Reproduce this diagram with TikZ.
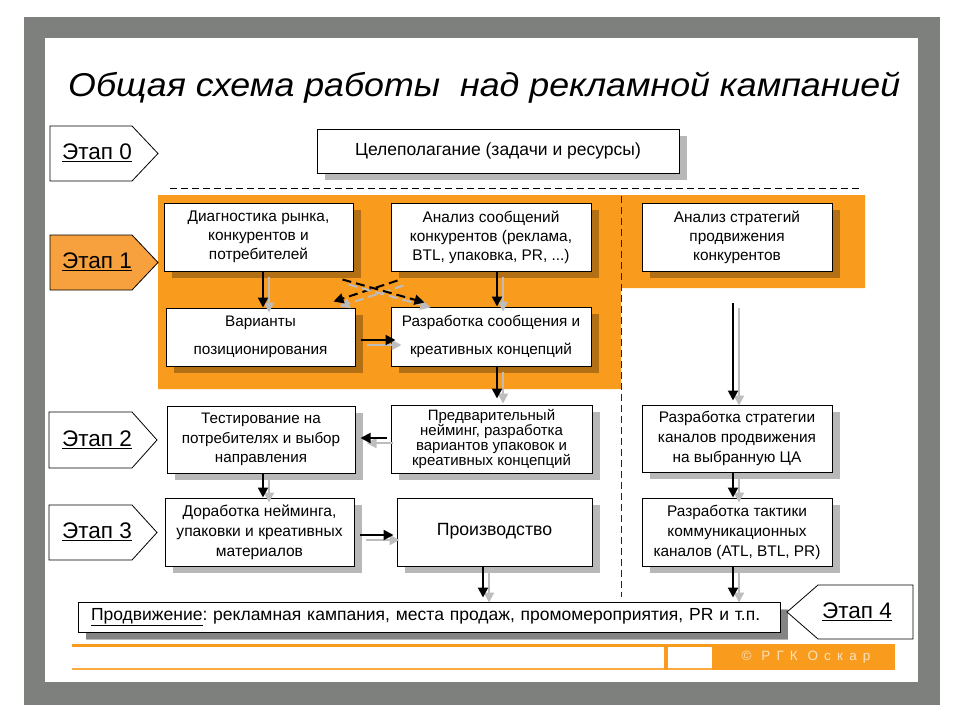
\documentclass[tikz,border=0pt]{standalone}
\usepackage{fontspec}
\setmainfont{Liberation Sans}
\newfontfamily\spacedfont[LetterSpace=45]{Liberation Sans}
\usetikzlibrary{arrows.meta,calc,shadows}
\frenchspacing
\definecolor{framegray}{HTML}{7E807E}
\definecolor{orng}{HTML}{F99B1C}
\definecolor{orngl}{HTML}{F6A13E}
\definecolor{arrgray}{HTML}{BDBDBD}
\definecolor{foottxt}{HTML}{FCE2BC}
\newcommand\sarr[4][]{%
  \draw[arrsh,#1] ($(#2)+#4+(6,5)$) -- ($(#3)+#4+(6,5)$);
  \draw[arrbk,#1] ($(#2)+#4$) -- ($(#3)+#4$);}
\begin{document}
\begin{tikzpicture}[x=1pt,y=-1pt,
  box/.style={draw=black, line width=1pt, fill=white, align=center, inner sep=0pt,
    font=\fontsize{15.4}{19}\selectfont,
    drop shadow={shadow xshift=8pt, shadow yshift=-7pt, fill=black, opacity=0.28}},
  stagebox/.style={draw=black, line width=0.8pt, fill=white},
  stagetext/.style={font=\fontsize{22.5}{24}\selectfont, inner sep=0pt},
  arrbk/.style={draw=black, line width=2pt, -{Triangle[length=10pt,width=10pt]}},
  arrsh/.style={draw=arrgray, line width=2pt, -{Triangle[length=10pt,width=10pt]}},
  dashedarrow/.style={dash pattern=on 9pt off 5pt},
  sepline/.style={draw=black, line width=1pt, dash pattern=on 7pt off 4pt}]
\useasboundingbox (0,0) rectangle (960,720);
\fill[white] (0,0) rectangle (960,720);
% frame
\fill[framegray] (24,17) rectangle (940,705);
\fill[white] (45,38) rectangle (918,682);
% title
\node[anchor=base west, inner sep=0pt, font=\fontsize{33}{33}\selectfont\itshape] (title) at (68,96)
  {\resizebox{832pt}{\height}{Общая схема работы\hspace{0.28em} над рекламной кампанией}};
% orange stage 1 area
\fill[orng] (158,195) -- (865,195) -- (865,288) -- (621,288) -- (621,389) -- (158,389) -- cycle;
% separators
\draw[sepline] (170,188) -- (860,188);
\draw[sepline, draw=black!85] (621,196) -- (621,597);
% stage labels
\draw[stagebox] (50,126) -- (132,126) -- (158,153.5) -- (132,181) -- (50,181) -- cycle;
\node[stagetext] (st0) at (97,153) {\underline{Этап 0}};
\draw[stagebox, fill=orngl] (50,235) -- (132,235) -- (158,262.5) -- (132,290) -- (50,290) -- cycle;
\node[stagetext] (st1) at (97,262) {\underline{Этап 1}};
\draw[stagebox] (49,412) -- (132,412) -- (157,440) -- (132,468) -- (49,468) -- cycle;
\node[stagetext] (st2) at (97,440) {\underline{Этап 2}};
\draw[stagebox] (49,505) -- (132,505) -- (157,532.5) -- (132,560) -- (49,560) -- cycle;
\node[stagetext] (st3) at (97,532) {\underline{Этап 3}};
\draw[stagebox] (913,585) -- (818,585) -- (787,612) -- (818,639) -- (913,639) -- cycle;
\node[stagetext] (st4) at (857,612) {\underline{Этап 4}};
% boxes
\node[box, minimum width=362pt, minimum height=44pt, font=\fontsize{17.5}{20}\selectfont] (goal) at (498,151)
  {Целеполагание (задачи и ресурсы)};
\node[box, minimum width=189pt, minimum height=68pt] (diag) at (258.5,237)
  {Диагностика рынка,\\конкурентов и\\потребителей};
\node[box, minimum width=200pt, minimum height=68pt] (anmsg) at (491,237)
  {Анализ сообщений\\конкурентов (реклама,\\BTL, упаковка, PR, ...)};
\node[box, minimum width=190pt, minimum height=68pt] (anstr) at (737,237)
  {Анализ стратегий\\продвижения\\конкурентов};
\node[box, minimum width=189pt, minimum height=58pt, font=\fontsize{15.3}{28}\selectfont] (var) at (260.5,337)
  {Варианты\\позиционирования};
\node[box, minimum width=200pt, minimum height=59pt, font=\fontsize{15.3}{28}\selectfont] (razr) at (491,336.5)
  {Разработка сообщения и\\креативных концепций};
\node[box, minimum width=188pt, minimum height=67pt, font=\fontsize{15.2}{19.5}\selectfont] (test) at (261,439.5)
  {Тестирование на\\потребителях и выбор\\направления};
\node[box, minimum width=201pt, minimum height=68pt, font=\fontsize{15}{15}\selectfont] (pred) at (491.5,439)
  {Предварительный\\нейминг, разработка\\вариантов упаковок и\\креативных концепций};
\node[box, minimum width=190pt, minimum height=67pt, font=\fontsize{15.4}{20}\selectfont] (strat) at (737,438.5)
  {Разработка стратегии\\каналов продвижения\\на выбранную ЦА};
\node[box, minimum width=189pt, minimum height=68pt, font=\fontsize{15.6}{20}\selectfont] (dor) at (259.5,532)
  {Доработка нейминга,\\упаковки и креативных\\материалов};
\node[box, minimum width=195pt, minimum height=68pt, font=\fontsize{17.7}{20}\selectfont] (proizv) at (494.5,532)
  {\raisebox{5pt}{Производство}};
\node[box, minimum width=190pt, minimum height=68pt, font=\fontsize{15.4}{20}\selectfont] (takt) at (737,532)
  {Разработка тактики\\коммуникационных\\каналов (ATL, BTL, PR)};
\node[box, minimum height=30pt, text width=676pt, inner xsep=13pt, align=left,
  font=\fontsize{17.5}{20}\selectfont, drop shadow={shadow xshift=8pt, shadow yshift=-8pt, fill=black, opacity=0.28}] (prod) at (429,617)
  {\underline{Продвижение}: рекламная кампания, места продаж, промомероприятия, PR и т.п.};
% arrows
\sarr{diag.south}{diag.south |- var.north}{(4.5,0)}
\sarr{anmsg.south}{anmsg.south |- razr.north}{(6,0)}
\coordinate (xa1) at ($(anmsg.south west)+(7,9)$);
\coordinate (xa2) at ($(var.north east)+(-22,-6)$);
\coordinate (xb1) at ($(diag.south east)+(-11,8)$);
\coordinate (xb2) at ($(razr.north west)+(34,-4)$);
\sarr[dashedarrow]{xa1}{xa2}{(0,0)}
\sarr[dashedarrow]{xb1}{xb2}{(0,0)}
\sarr{var.east}{razr.west |- var.east}{(5,3)}
\sarr[shorten >=6pt]{razr.south}{razr.south |- pred.north}{(6,0)}
\coordinate (strstart) at (733,303);
\sarr[shorten >=4pt]{strstart}{strstart |- strat.north}{(0,0)}
\sarr[shorten <=4pt, shorten >=5pt]{pred.west}{test.east |- pred.west}{(0,-1)}
\sarr{test.south}{test.south |- dor.north}{(2,0)}
\sarr[shorten <=5pt, shorten >=3pt]{dor.east}{proizv.west |- dor.east}{(0,3)}
\sarr[shorten >=4pt]{proizv.south}{proizv.south |- prod.north}{(-11.5,0)}
\sarr{strat.south}{strat.south |- takt.north}{(-4,0)}
\sarr[shorten >=4pt]{takt.south}{takt.south |- prod.north}{(-4,0)}
% footer
\draw[orng, line width=3pt] (72,645) -- (712,645);
\draw[orng!85, line width=2pt] (72,669) -- (712,669);
\draw[orng, line width=4pt] (666,644) -- (666,670);
\fill[orng] (712,644) rectangle (895,670);
\node[font=\spacedfont\fontsize{13.5}{13.5}\selectfont, text=foottxt, inner sep=0pt] (copy) at (806,657) {© РГК Оскар};
\end{tikzpicture}
\end{document}
